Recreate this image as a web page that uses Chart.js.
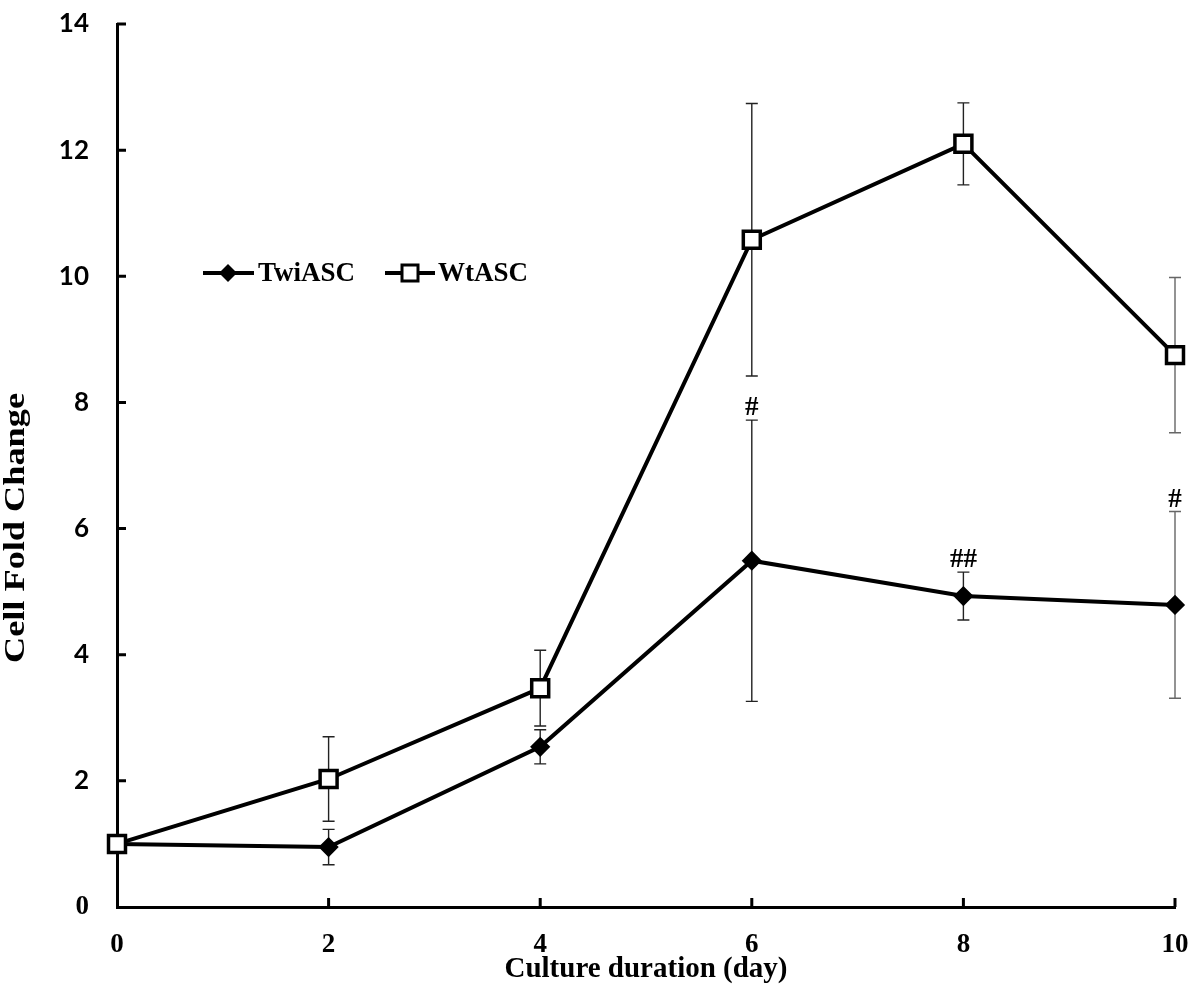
<!DOCTYPE html>
<html lang="en">
<head>
    <meta charset="UTF-8">
    <title>Cell Fold Change</title>
    <script src="https://cdn.jsdelivr.net/npm/chart.js"></script>
    <style>
        body {
            margin: 0;
            padding: 0;
            background: #fff;
        }
        #wrap {
            width: 1200px;
            height: 997px;
        }
    </style>
</head>
<body>
    <div id="wrap">
        <canvas id="myChart" width="1200" height="997"></canvas>
    </div>

    <script>
        // data
        const days = [0, 2, 4, 6, 8, 10];
        const twiASC = [1.0, 0.95, 2.54, 5.49, 4.93, 4.79];
        const twiErr = [0, 0.28, 0.27, 2.23, 0.38, 1.48];
        const wtASC = [1.0, 2.03, 3.47, 10.58, 12.10, 8.75];
        const wtErr = [0, 0.67, 0.60, 2.16, 0.65, 1.23];
        const twiSig = ['', '', '', '#', '##', '#'];
        const yTicks = [0, 2, 4, 6, 8, 10, 12, 14];
        const xTicks = [0, 2, 4, 6, 8, 10];

        const serif = "'Liberation Serif', 'Times New Roman', serif";
        const sans = "Lato, 'Open Sans', sans-serif";

        const toPoints = (vals) => days.map((d, i) => ({ x: d, y: vals[i] }));

        // error bars, inside ticks, # marks, legend and axis titles
        const extras = {
            id: 'extras',
            beforeDatasetsDraw(chart) {
                const ctx = chart.ctx;
                const xs = chart.scales.x, ys = chart.scales.y;
                ctx.save();
                ctx.lineWidth = 1.4;
                [[twiASC, twiErr], [wtASC, wtErr]].forEach(([vals, errs]) => {
                    vals.forEach((v, i) => {
                        if (!errs[i]) return;
                        // last column comes out lighter in the original
                        ctx.strokeStyle = i === days.length - 1 ? '#666' : '#222';
                        const px = xs.getPixelForValue(days[i]);
                        const top = ys.getPixelForValue(v + errs[i]);
                        const bot = ys.getPixelForValue(v - errs[i]);
                        ctx.beginPath();
                        ctx.moveTo(px, top); ctx.lineTo(px, bot);
                        ctx.moveTo(px - 6, top); ctx.lineTo(px + 6, top);
                        ctx.moveTo(px - 6, bot); ctx.lineTo(px + 6, bot);
                        ctx.stroke();
                    });
                });
                ctx.restore();
            },
            afterDraw(chart) {
                const ctx = chart.ctx;
                const xs = chart.scales.x, ys = chart.scales.y;
                const area = chart.chartArea;
                ctx.save();

                // inward tick marks
                ctx.strokeStyle = '#000';
                ctx.lineWidth = 3;
                ctx.beginPath();
                yTicks.forEach(t => {
                    if (t === 0) return;
                    const py = ys.getPixelForValue(t);
                    ctx.moveTo(area.left, py); ctx.lineTo(area.left + 9, py);
                });
                xTicks.forEach(t => {
                    if (t === 0) return;
                    const px = xs.getPixelForValue(t);
                    ctx.moveTo(px, area.bottom); ctx.lineTo(px, area.bottom - 9);
                });
                ctx.stroke();

                // significance marks
                ctx.fillStyle = '#000';
                ctx.font = 'bold 27px ' + serif;
                ctx.textAlign = 'center';
                ctx.textBaseline = 'alphabetic';
                twiSig.forEach((s, i) => {
                    if (!s) return;
                    const px = xs.getPixelForValue(days[i]);
                    const py = ys.getPixelForValue(twiASC[i] + twiErr[i]);
                    ctx.fillText(s, px, py - 5);
                });

                // legend
                const ly = 273;
                ctx.lineWidth = 4;
                ctx.beginPath();
                ctx.moveTo(203, ly); ctx.lineTo(254, ly);
                ctx.moveTo(385, ly); ctx.lineTo(435, ly);
                ctx.stroke();
                // diamond
                ctx.beginPath();
                ctx.moveTo(228, ly - 9); ctx.lineTo(237, ly); ctx.lineTo(228, ly + 9); ctx.lineTo(219, ly);
                ctx.closePath();
                ctx.fill();
                // square
                ctx.fillStyle = '#fff';
                ctx.lineWidth = 3;
                ctx.fillRect(402, ly - 8, 16, 16);
                ctx.strokeRect(402, ly - 8, 16, 16);
                ctx.fillStyle = '#000';
                ctx.font = 'bold 27px ' + serif;
                ctx.textAlign = 'left';
                ctx.textBaseline = 'middle';
                ctx.fillText('TwiASC', 258, ly + 1);
                ctx.fillText('WtASC', 438, ly + 1);

                // axis titles
                ctx.font = 'bold 29px ' + serif;
                ctx.textAlign = 'center';
                ctx.fillText('Culture duration (day)', (area.left + area.right) / 2, 970);
                // y title is drawn a bit stretched in the original
                const yTitle = 'Cell Fold Change';
                const w = ctx.measureText(yTitle).width;
                ctx.translate(17, 528);
                ctx.rotate(-Math.PI / 2);
                ctx.scale(270 / w, 1);
                ctx.fillText(yTitle, 0, 0);
                ctx.restore();
            }
        };

        const ctx = document.getElementById('myChart').getContext('2d');
        const myChart = new Chart(ctx, {
            type: 'line',
            data: {
                datasets: [
                    {
                        label: 'WtASC',
                        data: toPoints(wtASC),
                        borderColor: '#000',
                        borderWidth: 4,
                        pointStyle: 'rect',
                        pointRadius: 12,
                        pointBorderWidth: 3.5,
                        pointBackgroundColor: '#fff',
                        pointBorderColor: '#000',
                        tension: 0,
                        clip: false,
                        order: 0
                    },
                    {
                        label: 'TwiASC',
                        data: toPoints(twiASC),
                        borderColor: '#000',
                        borderWidth: 4,
                        pointStyle: 'rectRot',
                        pointRadius: 8,
                        pointBorderWidth: 3,
                        pointBackgroundColor: '#000',
                        pointBorderColor: '#000',
                        tension: 0,
                        clip: false,
                        order: 1
                    }
                ]
            },
            options: {
                responsive: false,
                animation: false,
                layout: {
                    padding: { top: 24, right: 25, left: 0, bottom: 0 }
                },
                plugins: {
                    legend: { display: false },
                    tooltip: { enabled: false }
                },
                scales: {
                    x: {
                        type: 'linear',
                        min: 0,
                        max: 10,
                        afterFit: (scale) => {
                            scale.height = 90;
                            scale.paddingLeft = 0;
                            scale.paddingRight = 0;
                        },
                        afterBuildTicks: (scale) => { scale.ticks = xTicks.map(v => ({ value: v })); },
                        grid: { display: false, drawTicks: false },
                        border: { display: true, color: '#000', width: 3 },
                        ticks: {
                            color: '#000',
                            padding: 22,
                            maxRotation: 0,
                            font: { family: serif, size: 27, weight: 'bold' }
                        }
                    },
                    y: {
                        min: 0,
                        max: 14,
                        afterFit: (scale) => {
                            scale.width = 117;
                            scale.paddingTop = 0;
                            scale.paddingBottom = 0;
                        },
                        afterBuildTicks: (scale) => { scale.ticks = yTicks.map(v => ({ value: v })); },
                        grid: { display: false, drawTicks: false },
                        border: { display: true, color: '#000', width: 3 },
                        ticks: {
                            color: '#000',
                            padding: 28,
                            font: (c) => c.tick && c.tick.value === 0
                                ? { family: serif, size: 27, weight: 'bold' }
                                : { family: sans, size: 26, weight: 'bold' }
                        }
                    }
                }
            },
            plugins: [extras]
        });
    </script>
</body>
</html>
